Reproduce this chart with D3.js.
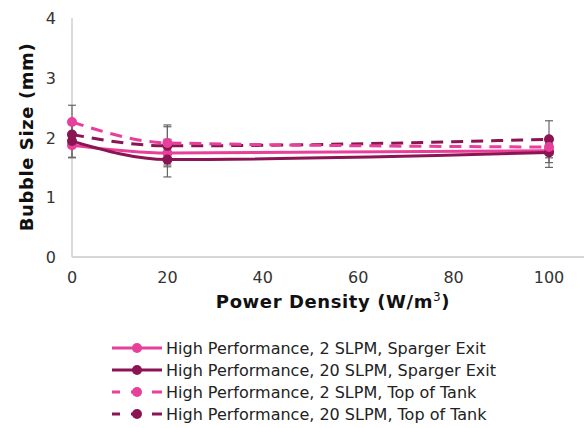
<!DOCTYPE html>
<html><head><meta charset="utf-8">
<script src="https://cdn.jsdelivr.net/npm/d3@7"></script>
<style>body{margin:0;background:#fff}svg{display:block}text{font-family:"DejaVu Sans",Verdana,sans-serif}</style>
</head><body><svg id="c" width="586" height="428"></svg>
<script>
const xValues = [0, 20, 100];
const seriesNames = [
  "High Performance, 2 SLPM, Sparger Exit",
  "High Performance, 20 SLPM, Sparger Exit",
  "High Performance, 2 SLPM, Top of Tank",
  "High Performance, 20 SLPM, Top of Tank"
];
const s1 = [1.87, 1.74, 1.78];
const s2 = [1.94, 1.63, 1.75];
const s3 = [2.26, 1.91, 1.84];
const s4 = [2.05, 1.86, 1.97];
const e1 = [0.2, 0.23, 0.2];
const e2 = [0.28, 0.29, 0.25];
const e3 = [0.28, 0.3, 0.06];
const e4 = [0.2, 0.32, 0.31];
const xTicks = [0, 20, 40, 60, 80, 100];
const yTicks = [0, 1, 2, 3, 4];
const colors = ["#E8409A", "#8B1452", "#E8409A", "#8B1452"];
const dashed = [false, false, true, true];

const svg = d3.select("#c");
const x = d3.scaleLinear().domain([0, 100]).range([72, 549]);
const y = d3.scaleLinear().domain([0, 4]).range([257, 18]);

svg.append("line").attr("x1", 72).attr("x2", 72).attr("y1", 18).attr("y2", 257).attr("stroke", "#c8c8c8").attr("stroke-width", 1.3);
svg.append("line").attr("x1", 72).attr("x2", 584).attr("y1", 257).attr("y2", 257).attr("stroke", "#c8c8c8").attr("stroke-width", 1.3);

svg.selectAll(".yt").data(yTicks).join("text").attr("x", 56).attr("y", d => y(d) + 6)
  .attr("text-anchor", "end").attr("font-size", 16).attr("fill", "#333").text(d => d);
svg.selectAll(".xt").data(xTicks).join("text").attr("x", d => x(d)).attr("y", 283)
  .attr("text-anchor", "middle").attr("font-size", 16).attr("fill", "#333").text(d => d);

svg.append("text").attr("transform", "translate(33,137) rotate(-90)").attr("text-anchor", "middle")
  .attr("font-size", 18).attr("letter-spacing", 0.6).attr("font-weight", "bold").attr("fill", "#111").text("Bubble Size (mm)");
const xt = svg.append("text").attr("x", 333).attr("y", 308).attr("text-anchor", "middle")
  .attr("font-size", 18).attr("letter-spacing", 0.6).attr("font-weight", "bold").attr("fill", "#111");
xt.append("tspan").text("Power Density (W/m");
xt.append("tspan").attr("font-size", 12).attr("font-weight", "normal").attr("dy", -7).text("3");
xt.append("tspan").attr("dy", 7).text(")");

const data = [s1, s2, s3, s4];
const errs = [e1, e2, e3, e4];
const line = d3.line().x(d => x(d[0])).y(d => y(d[1])).curve(d3.curveMonotoneX);
const order = [0, 1, 3, 2];
order.forEach(i => {
  const pts = xValues.map((v, j) => [v, data[i][j]]);
  svg.append("path").attr("d", line(pts)).attr("fill", "none").attr("stroke", colors[i])
    .attr("stroke-width", 3).attr("stroke-dasharray", dashed[i] ? "12,8" : null);
});
order.forEach(i => {
  xValues.forEach((v, j) => {
    const cx = x(v), top = y(data[i][j] + errs[i][j]), bot = y(data[i][j] - errs[i][j]);
    const g = svg.append("g").attr("stroke", "#666").attr("stroke-width", 1.2);
    g.append("line").attr("x1", cx).attr("x2", cx).attr("y1", top).attr("y2", bot);
    g.append("line").attr("x1", cx - 4).attr("x2", cx + 4).attr("y1", top).attr("y2", top);
    g.append("line").attr("x1", cx - 4).attr("x2", cx + 4).attr("y1", bot).attr("y2", bot);
  });
});
order.forEach(i => {
  svg.selectAll(null).data(xValues.map((v, j) => [v, data[i][j]])).join("circle")
    .attr("cx", d => x(d[0])).attr("cy", d => y(d[1])).attr("r", 5).attr("fill", colors[i]);
});

seriesNames.forEach((name, i) => {
  const ly = 348 + i * 22;
  const g = svg.append("g");
  if (dashed[i]) {
    [[112, 120], [131, 137], [152, 162]].forEach(s => g.append("line").attr("x1", s[0]).attr("x2", s[1]).attr("y1", ly).attr("y2", ly).attr("stroke", colors[i]).attr("stroke-width", 3));
  } else {
    g.append("line").attr("x1", 112).attr("x2", 162).attr("y1", ly).attr("y2", ly).attr("stroke", colors[i]).attr("stroke-width", 3);
  }
  g.append("circle").attr("cx", 137).attr("cy", ly).attr("r", 5).attr("fill", colors[i]);
  g.append("text").attr("x", 166).attr("y", ly + 6).attr("font-size", 16).attr("fill", "#222").text(name);
});
</script></body></html>
